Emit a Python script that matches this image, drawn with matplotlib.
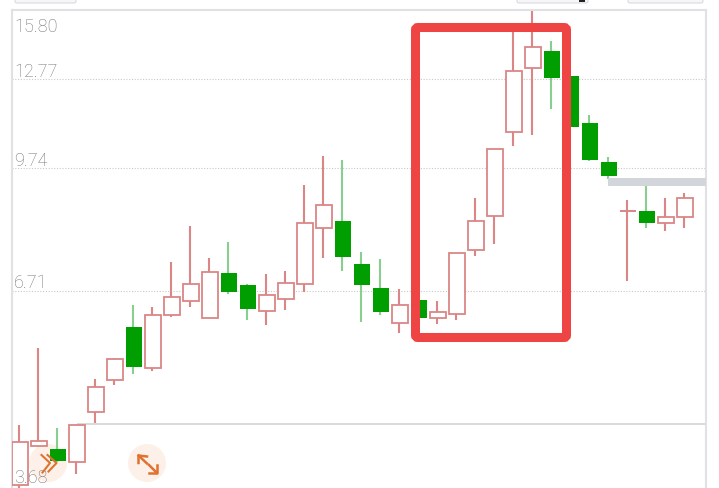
from matplotlib.patches import Circle, FancyBboxPatch, Rectangle
import matplotlib.pyplot as plt
import numpy as np

opens = [3.716, 4.18, 4.146, 3.982, 4.637, 5.111, 6.011, 5.311, 6.235, 6.5, 6.184, 7.085,
         6.831, 6.305, 6.552, 6.846, 8.117, 8.292, 7.289, 6.769, 6.079, 6.532, 6.184, 6.259,
         7.592, 8.427, 10.873, 13.21, 13.927, 12.905, 11.196, 9.924, 8.557, 8.549, 8.242, 8.409]
closes = [4.232, 4.245, 3.994, 4.456, 5.003, 5.458, 5.317, 6.235, 6.58, 6.858, 7.107, 6.681,
          6.356, 6.62, 6.866, 8.25, 8.714, 7.432, 6.837, 6.286, 6.427, 6.178, 6.286, 7.537,
          8.292, 10.343, 13.09, 14.085, 12.816, 11.06, 10.003, 9.518, 8.557, 8.25, 8.409, 8.894]
highs = [4.46, 5.64, 4.42, 4.46, 5.136, 5.475, 6.422, 6.383, 7.326, 8.174, 7.416, 7.786,
         6.85, 7.063, 7.135, 9.262, 10.116, 9.993, 7.546, 7.387, 6.748, 6.532, 6.506, 7.54,
         8.902, 10.343, 14.845, 16.0, 14.344, 12.905, 11.461, 10.085, 8.848, 9.233, 8.894, 9.039]
lows = [3.68, 4.18, 3.99, 3.846, 4.484, 5.034, 5.205, 5.257, 6.197, 6.394, 6.18, 6.646,
        6.14, 6.048, 6.331, 6.687, 7.423, 7.128, 6.103, 6.235, 5.908, 6.178, 6.066, 6.14,
        7.461, 7.739, 10.43, 10.783, 11.673, 11.06, 9.954, 9.432, 6.921, 8.125, 8.051, 8.117]

axis_ticks = [15.80, 12.77, 9.74, 6.71, 3.68]
tick_labels = ["15.80", "12.77", "9.74", "6.71", "3.68"]
grid_levels = [12.77, 9.74, 6.71]
separator_level = 4.475

RED = "#DA8686"
GREEN = "#009E00"
GREEN_WICK = "#86CF8C"
BORDER = "#E1E1E3"
ORANGE = "#DF7230"
WIDTH, HEIGHT = 719, 488
X_MIN, X_MAX = -0.447, 36.08
WICK_SHIFT = 0.05

plt.rcParams["font.family"] = ["Roboto", "Liberation Sans", "DejaVu Sans"]

fig = plt.figure(figsize=(WIDTH / 100, HEIGHT / 100), dpi=100, facecolor="white")


def pixel_axes(zorder):
    overlay = fig.add_axes([0, 0, 1, 1], zorder=zorder)
    overlay.set_xlim(0, WIDTH)
    overlay.set_ylim(HEIGHT, 0)
    overlay.axis("off")
    return overlay


back = pixel_axes(0)
back.add_patch(Circle((48, 463), 19, facecolor="#FDF0E8", edgecolor="none"))
back.add_patch(Circle((147, 463), 19, facecolor="#FDF0E8", edgecolor="none"))
for left, right in [(15, 76), (517, 588), (628, 703)]:
    back.add_patch(FancyBboxPatch((left + 2, -10), right - left - 4, 11, boxstyle="round,pad=2",
                                  facecolor="#F6F6F8", edgecolor="#DADADD", linewidth=0.8))
back.add_patch(Rectangle((579, 0), 6, 1.6, facecolor="#222222", edgecolor="none"))

left_px, right_px, top_px, bottom_px = 11.5, 705.5, 9.5, 488.2
ax = fig.add_axes([left_px / WIDTH, 1 - bottom_px / HEIGHT,
                   (right_px - left_px) / WIDTH, (bottom_px - top_px) / HEIGHT], zorder=1)
ax.patch.set_alpha(0)
ax.set_yscale("log")
ax.set_ylim(3.68, 15.80)
ax.set_xlim(X_MIN, X_MAX)
ax.set_xticks([])
ax.set_yticks([])
ax.minorticks_off()
for name, spine in ax.spines.items():
    spine.set_color(BORDER)
    spine.set_linewidth(1.5)
ax.spines["bottom"].set_visible(False)

ax.hlines(grid_levels, X_MIN, X_MAX, colors="#C9C9C9", linewidth=0.8, linestyles=(0, (1, 1.5)), zorder=1)
ax.hlines(separator_level, 3, X_MAX, colors="#D9D9D9", linewidth=1.4, zorder=1)

opens = np.array(opens)
closes = np.array(closes)
highs = np.array(highs)
lows = np.array(lows)
index = np.arange(len(opens))
rising = closes >= opens

ax.vlines(index[rising] - WICK_SHIFT, lows[rising], highs[rising], colors=RED, linewidth=1.5, zorder=2)
ax.vlines(index[~rising] - WICK_SHIFT, lows[~rising], highs[~rising], colors=GREEN_WICK, linewidth=1.5, zorder=2)

ax.bar(index[rising], closes[rising] - opens[rising], bottom=opens[rising], width=0.82,
       facecolor="white", edgecolor=RED, linewidth=1.3, zorder=3)
ax.bar(index[~rising], closes[~rising] - opens[~rising], bottom=opens[~rising], width=0.84,
       facecolor=GREEN, edgecolor="none", zorder=3)

# the flat candle has no body height, so it gets a tick across the wick
flat = index[opens == closes]
ax.hlines(opens[flat], flat - 0.42, flat + 0.42, colors=RED, linewidth=1.3, zorder=4)

label_offsets = [-26, -1.5, -1.5, -1.5, 1]
for value, label, offset in zip(axis_ticks, tick_labels, label_offsets):
    ax.annotate(label, xy=(0, value), xycoords=("axes fraction", "data"),
                xytext=(2.0, offset * 0.72), textcoords="offset points",
                fontsize=13, fontweight="light", color="#757575", ha="left", va="bottom", zorder=6)

front = pixel_axes(2)
front.add_patch(Rectangle((608, 178), 98, 7.6, facecolor="#D2D5DA", edgecolor="none"))
front.add_patch(FancyBboxPatch((418, 30), 146, 305, boxstyle="round,pad=2.5", fill=False,
                               edgecolor="#EF4444", linewidth=6.5))

for points in [[(41.5, 455), (50, 463), (42.5, 472.5)], [(47.5, 455), (56.5, 463), (48.5, 471.5)]]:
    xs, ys = zip(*points)
    front.plot(xs, ys, color=ORANGE, linewidth=1.5)
for points in [[(147, 456.5), (138.5, 455.5), (138.5, 463)], [(138.5, 455.5), (147, 463.5)],
               [(156.5, 465), (156.5, 472.5), (149, 472.5)], [(156.5, 472.5), (149, 465)]]:
    xs, ys = zip(*points)
    front.plot(xs, ys, color=ORANGE, linewidth=1.8)

fig.savefig("out.png", dpi=100)
